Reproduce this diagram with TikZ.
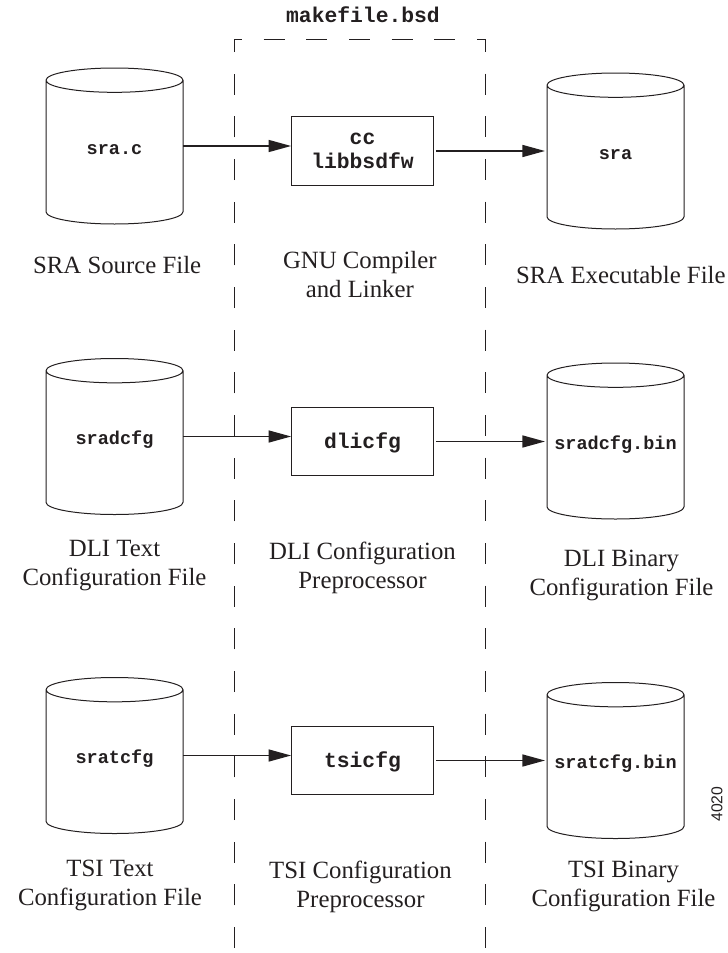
\documentclass[tikz,border=0pt]{standalone}
\usepackage{fontspec}
\setmainfont{Liberation Serif}
\setmonofont{Liberation Mono}
\newfontfamily\tagfont{Liberation Sans}
\usetikzlibrary{positioning,shapes,arrows.meta}
\definecolor{inkblack}{HTML}{231F20}

\begin{document}
\begin{tikzpicture}
[x=0.75pt, y=-0.75pt, color=inkblack, text=inkblack,
    datafile/.style={cylinder, shape border rotate=90, aspect=0.19, draw, line width=0.75pt,
    minimum width=102.75pt, minimum height=117pt, inner sep=0pt, outer sep=0pt,
    text width=96pt, text height=10pt, text depth=7pt, align=center, anchor=shape center,
    font=\fontsize{13.9}{16}\selectfont\ttfamily\bfseries},
    toolbox/.style={rectangle, draw, line width=0.75pt, minimum width=107pt, minimum height=51.5pt,
    align=center, inner sep=0pt, outer sep=0pt,
    font=\fontsize{16}{17.5}\selectfont\ttfamily\bfseries},
    oneline/.style={text height=14pt, text depth=3.2pt},
    caption/.style={align=center, inner sep=0pt, font=\fontsize{18.6}{21.75}\selectfont},
    flow/.style={line width=1.2pt, -{Triangle[length=17pt,width=9pt]}},
    border/.style={line width=0.7pt, dash pattern=on 15.75pt off 16.25pt}
    ]
    \useasboundingbox (0,0) rectangle (728,953);

    \node[datafile] (srcsra) at (114.5,146) {sra.c};
    \node[datafile] (srctext) at (114.5,436.5) {sradcfg};
    \node[datafile] (tsitext) at (114.5,755.5) {sratcfg};

    \node[toolbox] (compiler) at (362.5,151) {cc\\libbsdfw};
    \node[toolbox, oneline] (dlitool) at (362.5,441.5) {dlicfg};
    \node[toolbox, oneline] (tsitool) at (362.5,760.5) {tsicfg};

    \node[datafile] (exesra) at (615.5,151) {sra};
    \node[datafile] (dlibin) at (615.5,441) {sradcfg.bin};
    \node[datafile] (tsibin) at (615.5,760.5) {sratcfg.bin};

    \node[caption, below=24pt of srcsra, xshift=2pt] (srccap) {SRA Source File};
    \node[caption, below=19pt of srctext] (dlicap) {DLI Text\\Configuration File};
    \node[caption, below=20pt of tsitext, xshift=-3.4pt] (tsicap) {TSI Text\\Configuration File};
    \node[caption, below=49pt of compiler, xshift=-2pt] (gnucap) {GNU Compiler\\and Linker};
    \node[caption, below=49.5pt of dlitool] (dlipre) {DLI Configuration\\Preprocessor};
    \node[caption, below=49.5pt of tsitool, xshift=-1.5pt] (tsipre) {TSI Configuration\\Preprocessor};
    \node[caption, below=28pt of exesra, xshift=4pt] (execap) {SRA Executable File};
    \node[caption, below=23pt of dlibin, xshift=4.5pt] (dlibcap) {DLI Binary\\Configuration File};
    \node[caption, below=17pt of tsibin, xshift=6pt] (tsibcap) {TSI Binary\\Configuration File};

    \node[font=\fontsize{16}{16.5}\selectfont\ttfamily\bfseries, inner sep=0pt] (mkfile) at (363,15) {makefile.bsd};
    \node[font=\fontsize{11.8}{12}\selectfont\tagfont, rotate=90, inner sep=0pt] (figtag) at (717,804) {4020};

    \coordinate (leftend) at (234,948);
    \coordinate (leftcorner) at (234,39);
    \coordinate (rightcorner) at (485,39);
    \coordinate (rightend) at (485,948);
    \draw[border] (leftend) -- (leftcorner) -- (rightcorner) -- (rightend);

    \draw[flow] (srcsra.shape center -| srcsra.east) -- (srcsra.shape center -| compiler.west);
    \draw[flow] (srctext.shape center -| srctext.east) -- (srctext.shape center -| dlitool.west);
    \draw[flow] (tsitext.shape center -| tsitext.east) -- (tsitext.shape center -| tsitool.west);
    \draw[flow, shorten <=1.5pt, shorten >=1.5pt] (compiler.east) -- (compiler.east -| exesra.west);
    \draw[flow, shorten <=1.5pt, shorten >=1.5pt] (dlitool.east) -- (dlitool.east -| dlibin.west);
    \draw[flow, shorten <=1.5pt, shorten >=1.5pt] (tsitool.east) -- (tsitool.east -| tsibin.west);
\end{tikzpicture}
\end{document}
